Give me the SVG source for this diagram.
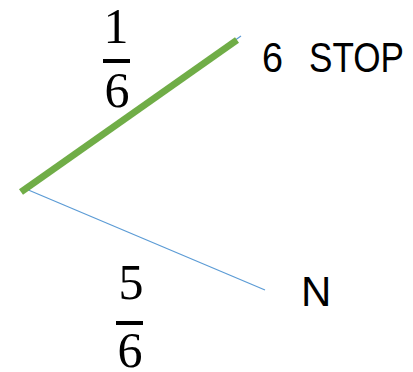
<svg xmlns="http://www.w3.org/2000/svg" width="413" height="372" viewBox="0 0 413 372">
<style>
.frac{font-family:"Liberation Serif","DejaVu Serif",serif;font-size:50px;fill:#000;text-anchor:middle}
.lbl{font-family:"Liberation Sans","Open Sans",sans-serif;font-size:42px;fill:#000}
.thin{stroke:#5B9BD5;stroke-width:1.2;fill:none}
.thick{stroke:#70AD47;stroke-width:7;fill:none}
</style>
<rect width="413" height="372" fill="#fff"/>
<g id="connectors">
<line class="thin" x1="25" y1="190" x2="241" y2="36"/>
<line class="thin" x1="26" y1="189" x2="265" y2="290"/>
<line class="thick" x1="21" y1="192" x2="237" y2="40"/>
</g>
<g id="frac-top">
<text class="frac" x="116" y="43">1</text>
<rect x="103" y="59" width="27" height="4" fill="#000"/>
<text class="frac" x="117" y="107">6</text>
</g>
<g id="frac-bottom">
<text class="frac" x="131" y="299">5</text>
<rect x="116" y="321" width="27" height="4" fill="#000"/>
<text class="frac" x="130" y="367">6</text>
</g>
<g id="node-stop">
<text class="lbl" y="72"><tspan x="262" textLength="21" lengthAdjust="spacingAndGlyphs">6</tspan><tspan x="309" textLength="95" lengthAdjust="spacingAndGlyphs">STOP</tspan></text>
</g>
<g id="node-n">
<text class="lbl" x="301" y="306">N</text>
</g>
</svg>
